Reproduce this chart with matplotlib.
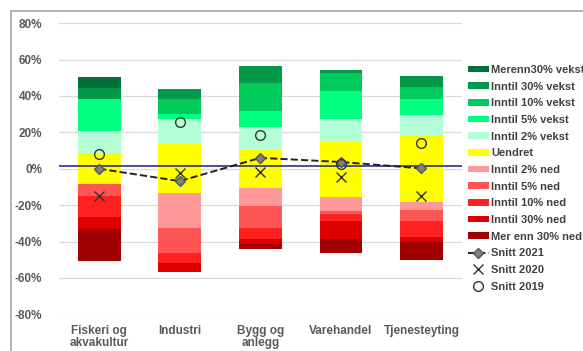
import numpy as np
import matplotlib.pyplot as plt
from matplotlib.patches import Rectangle

plt.rcParams['font.family'] = ['Liberation Sans', 'DejaVu Sans']
plt.rcParams['font.weight'] = 'bold'

categories = ['Fiskeri og\nakvakultur', 'Industri', 'Bygg og\nanlegg', 'Varehandel', 'Tjenesteyting']

# shares (%) per answer category
mer_30_vekst = [6.0, 0.0, 0.0, 0.0, 0.0]
inntil_30_vekst = [5.7, 5.2, 8.9, 1.9, 6.2]
inntil_10_vekst = [0.0, 8.3, 15.4, 9.6, 6.1]
inntil_5_vekst = [18.0, 2.8, 9.2, 15.8, 9.1]
inntil_2_vekst = [12.0, 13.9, 12.0, 11.6, 11.3]
uendret = [17.2, 26.8, 21.4, 31.0, 36.4]
inntil_2_ned = [0.0, 19.4, 9.6, 7.7, 4.7]
inntil_5_ned = [6.5, 13.6, 12.0, 1.9, 5.9]
inntil_10_ned = [11.5, 5.5, 6.2, 3.7, 8.9]
inntil_30_ned = [6.4, 5.0, 3.1, 9.8, 2.8]
mer_30_ned = [17.6, 0.0, 2.7, 7.8, 9.6]

snitt_2021 = [0.0, -6.8, 6.0, 3.7, 0.2]
snitt_2020 = [-15.2, -2.2, -1.7, -4.8, -15.0]
snitt_2019 = [8.3, 25.7, 18.5, 2.6, 14.4]

referanse = 1.5

pos_names = ['Inntil 2% vekst', 'Inntil 5% vekst', 'Inntil 10% vekst', 'Inntil 30% vekst', 'Merenn30% vekst']
pos_vals = [inntil_2_vekst, inntil_5_vekst, inntil_10_vekst, inntil_30_vekst, mer_30_vekst]
pos_cols = ['#B3FFD6', '#00FF80', '#00CC5C', '#00994A', '#00703A']
neg_names = ['Inntil 2% ned', 'Inntil 5% ned', 'Inntil 10% ned', 'Inntil 30% ned', 'Mer enn 30% ned']
neg_vals = [inntil_2_ned, inntil_5_ned, inntil_10_ned, inntil_30_ned, mer_30_ned]
neg_cols = ['#FF9999', '#FF5555', '#FF2020', '#DD0000', '#A00000']

fig = plt.figure(figsize=(5.83, 3.51), dpi=100)
ax = fig.add_axes([0.101, 0.1045, 0.691, 0.8295])

x = np.arange(len(categories))
w = 0.53
half = np.array(uendret) / 2
handles = {}

handles['Uendret'] = ax.bar(x, uendret, w, bottom=-half, color='#FFFF00', zorder=2)
bottom = half.copy()
for name, vals, col in zip(pos_names, pos_vals, pos_cols):
    handles[name] = ax.bar(x, vals, w, bottom=bottom, color=col, zorder=2)
    bottom += np.array(vals)
bottom = -half.copy()
for name, vals, col in zip(neg_names, neg_vals, neg_cols):
    handles[name] = ax.bar(x, -np.array(vals), w, bottom=bottom, color=col, zorder=2)
    bottom -= np.array(vals)

ax.axhline(referanse, color='#2E2E8F', lw=1.2, zorder=3)

l21, = ax.plot(x, snitt_2021, ls='--', color='#222222', lw=1.4, marker='D', ms=5.5,
               mfc='#808080', mec='#555555', zorder=5)
l20, = ax.plot(x, snitt_2020, ls='none', marker='x', ms=7, mew=1.0, color='#333333', zorder=5)
l19, = ax.plot(x, snitt_2019, ls='none', marker='o', ms=7, mfc='none', mec='#333333', mew=1.0, zorder=5)

ax.set_xlim(-0.5, 4.5)
ax.set_ylim(-80, 80)
ax.set_yticks(np.arange(-80, 81, 20))
ax.set_yticklabels(['%d%%' % v for v in np.arange(-80, 81, 20)])
ax.set_xticks(x)
ax.set_xticklabels(categories, linespacing=1.0)
ax.grid(axis='y', color='#D9D9D9', lw=0.9, zorder=0)
ax.set_axisbelow(True)
for s in ax.spines.values():
    s.set_visible(False)
ax.tick_params(length=0, colors='#595959', labelsize=8.5)
ax.tick_params(axis='x', pad=8)
ax.tick_params(axis='y', pad=12)

order = ['Merenn30% vekst', 'Inntil 30% vekst', 'Inntil 10% vekst', 'Inntil 5% vekst', 'Inntil 2% vekst',
         'Uendret', 'Inntil 2% ned', 'Inntil 5% ned', 'Inntil 10% ned', 'Inntil 30% ned', 'Mer enn 30% ned']
leg_h = [handles[n] for n in order] + [l21, l20, l19]
leg_l = order + ['Snitt 2021', 'Snitt 2020', 'Snitt 2019']
leg = fig.legend(leg_h, leg_l, loc='upper left', bbox_to_anchor=(0.802, 0.815), frameon=False,
                 fontsize=8, handlelength=1.9, handleheight=0.55, handletextpad=0.2,
                 labelspacing=0.6, borderpad=0, borderaxespad=0)
for t in leg.get_texts():
    t.set_color('#404040')

fig.patches.append(Rectangle((11 / 583, -0.1), 1.2, 1 - 10.7 / 351 + 0.1, transform=fig.transFigure,
                             fill=False, edgecolor='#A6A6A6', lw=1.2))

fig.savefig('out.png', dpi=100)
